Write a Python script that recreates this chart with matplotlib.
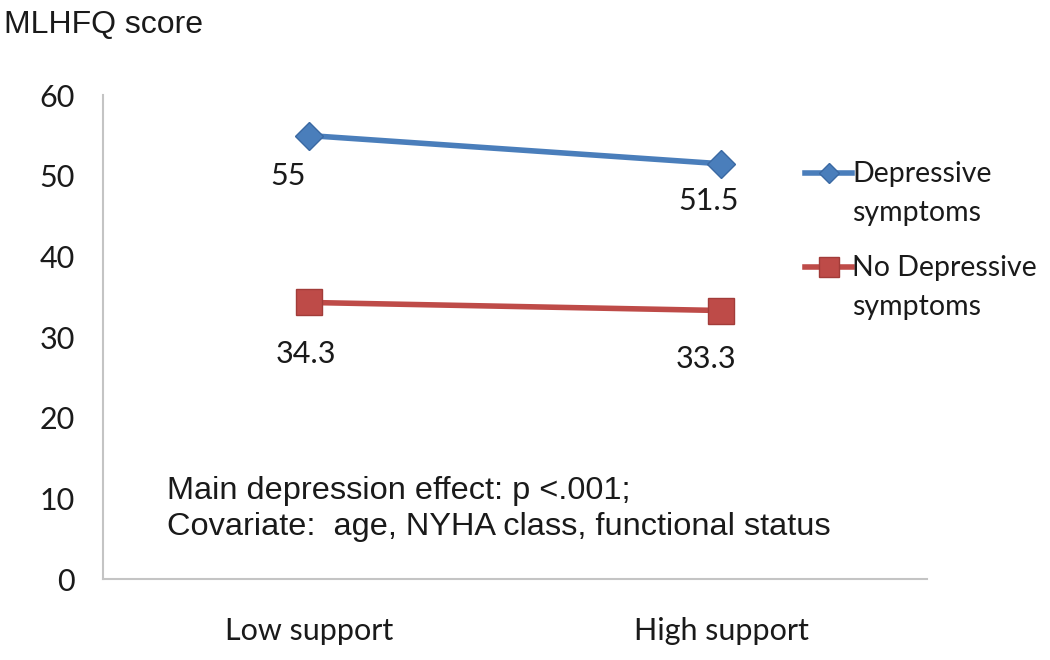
import matplotlib
matplotlib.use("Agg")
import matplotlib.pyplot as plt
from matplotlib.legend_handler import HandlerLine2D

categories = ["Low support", "High support"]
depressive = [55, 51.5]
no_depressive = [34.3, 33.3]
series_names = ["Depressive\nsymptoms", "No Depressive\nsymptoms"]
y_ticks = [0, 10, 20, 30, 40, 50, 60]

# label offsets (points) for the data labels, Excel put them a bit off-centre
dep_offsets = [(-15, -29), (-9, -27)]
nodep_offsets = [(-2, -37), (-11, -35)]

BLUE = "#4A7EBB"
BLUE_EDGE = "#3A69A3"
RED = "#BE4B48"
RED_EDGE = "#A23C39"
CAL = "Lato"
ARIAL = "Liberation Sans"
TXT = "#1a1a1a"


class FirstLineHandler(HandlerLine2D):
    # keep the legend symbol level with the first text line
    def __init__(self, shift, **kw):
        super().__init__(**kw)
        self.shift = shift

    def create_artists(self, legend, orig_handle, xdescent, ydescent, width, height, fontsize, trans):
        arts = super().create_artists(legend, orig_handle, xdescent, ydescent,
                                      width, height, fontsize, trans)
        for a in arts:
            a.set_ydata([y + self.shift for y in a.get_ydata()])
        return arts


def main():
    fig = plt.figure(figsize=(10.5, 6.6), dpi=100)
    ax = fig.add_axes([0.098, 0.1227, 0.785, 0.733])

    x = list(range(len(categories)))
    l1, = ax.plot(x, depressive, color=BLUE, lw=4, marker="D", ms=14,
                  mfc=BLUE, mec=BLUE_EDGE, mew=1, label=series_names[0])
    l2, = ax.plot(x, no_depressive, color=RED, lw=4, marker="s", ms=19,
                  mfc=RED, mec=RED_EDGE, mew=1, label=series_names[1])

    for xi, v, off in zip(x, depressive, dep_offsets):
        ax.annotate(f"{v:g}", (xi, v), xytext=off, textcoords="offset points",
                    ha="center", va="center", fontsize=22, family=CAL, color=TXT)
    for xi, v, off in zip(x, no_depressive, nodep_offsets):
        ax.annotate(f"{v:g}", (xi, v), xytext=off, textcoords="offset points",
                    ha="center", va="center", fontsize=22, family=CAL, color=TXT)

    ax.set_xlim(-0.5, 1.5)
    ax.set_ylim(0, 60)
    ax.set_yticks(y_ticks)
    ax.set_xticks(x)
    ax.set_xticklabels(categories)
    for lab in ax.get_xticklabels() + ax.get_yticklabels():
        lab.set_family(CAL)
        lab.set_fontsize(22)
        lab.set_color(TXT)
    ax.tick_params(axis="y", length=0, pad=20)
    ax.tick_params(axis="x", length=0, pad=27)

    for side in ["top", "right"]:
        ax.spines[side].set_visible(False)
    for side in ["left", "bottom"]:
        ax.spines[side].set_color("#C4C4C4")
        ax.spines[side].set_linewidth(1.5)

    fig.text(0.004, 0.962, "MLHFQ score", family=ARIAL, fontsize=23,
             ha="left", va="center", color=TXT)

    ax.text(0.078, 0.145, "Main depression effect: p <.001;\nCovariate:  age, NYHA class, functional status",
            transform=ax.transAxes, family=ARIAL, fontsize=23.4, linespacing=1.25,
            ha="left", va="center", color=TXT)

    leg = fig.legend(handles=[l1, l2], loc="upper left", bbox_to_anchor=(0.767, 0.756),
                     frameon=False, borderpad=0, borderaxespad=0,
                     handlelength=1.65, handletextpad=0.0, labelspacing=1.02,
                     handler_map={l1: FirstLineHandler(15), l2: FirstLineHandler(15)},
                     prop={"family": CAL, "size": 20.5})
    for h in leg.legend_handles:
        h.set_markersize(h.get_markersize() * 0.75)
    for t in leg.get_texts():
        t.set_color(TXT)
        t.set_linespacing(1.62)

    fig.savefig("out.png", dpi=100, facecolor="white")


if __name__ == "__main__":
    main()
